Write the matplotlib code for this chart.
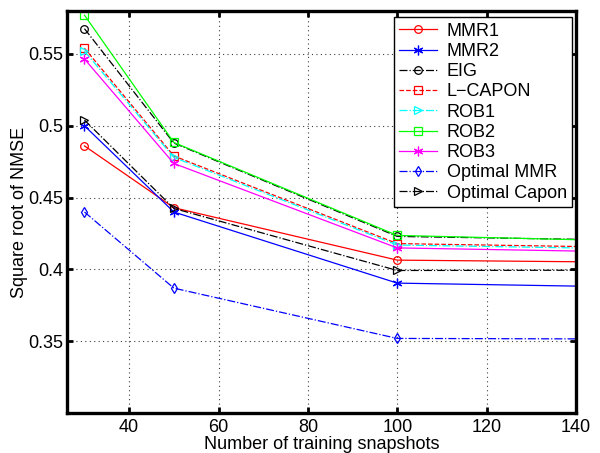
import numpy as np
import matplotlib.pyplot as plt

plt.rcParams['font.family'] = ['Liberation Sans', 'DejaVu Sans']

# training snapshots (last point lies past the right edge of the axes)
snapshots = [30, 50, 100, 150]

mmr1 = [0.486, 0.443, 0.4065, 0.4051]
mmr2 = [0.500, 0.440, 0.3905, 0.3879]
eig = [0.5676, 0.488, 0.423, 0.4205]
lcapon = [0.554, 0.479, 0.418, 0.4155]
rob1 = [0.552, 0.478, 0.417, 0.4145]
rob2 = [0.577, 0.4884, 0.4237, 0.4200]
rob3 = [0.5465, 0.4738, 0.415, 0.4123]
opt_mmr = [0.440, 0.387, 0.352, 0.3516]
opt_capon = [0.504, 0.4425, 0.3993, 0.3995]

names = ['MMR1', 'MMR2', 'EIG', 'L\u2212CAPON', 'ROB1', 'ROB2', 'ROB3',
         'Optimal MMR', 'Optimal Capon']
series = [mmr1, mmr2, eig, lcapon, rob1, rob2, rob3, opt_mmr, opt_capon]
asterisk = (6, 2, 0)
styles = [('#ff0000', '-', 'o'), ('#0000ff', '-', asterisk), ('k', '-.', 'o'),
          ('#ff0000', '--', 's'), ('#00ffff', '-.', '>'),
          ('#00ff00', '-', 's'), ('#ff00ff', '-', asterisk),
          ('#0000ff', '-.', 'd'), ('k', '-.', '>')]

fig = plt.figure(figsize=(6, 4.53), dpi=100)
ax = fig.add_axes([0.111, 0.088, 0.849, 0.888])

for name, ys, (c, ls, mk) in zip(names, series, styles):
    ms = 7 if mk is asterisk else 5.5
    ax.plot(snapshots, ys, color=c, linestyle=ls, marker=mk, markersize=ms,
            markerfacecolor='none', markeredgecolor=c, markeredgewidth=0.9,
            linewidth=0.9, label=name)

ax.set_xlim(26, 140)
ax.set_ylim(0.3, 0.58)
ax.set_xticks([40, 60, 80, 100, 120, 140])
ax.set_yticks([0.35, 0.4, 0.45, 0.5, 0.55])
ax.set_yticklabels(['0.35', '0.4', '0.45', '0.5', '0.55'])

ax.grid(True, color='0.25', linestyle=(0, (1, 3)), linewidth=0.8)
for s in ax.spines.values():
    s.set_linewidth(2.4)
ax.tick_params(direction='in', length=4, width=2, top=True, right=True,
               labelsize=13)
ax.tick_params(axis='x', pad=4.5)
ax.tick_params(axis='y', pad=2.5)

ax.set_xlabel('Number of training snapshots', fontsize=13)
ax.set_ylabel('Square root of NMSE', fontsize=13)
ax.xaxis.set_label_coords(0.5, -0.058)
ax.yaxis.set_label_coords(-0.075, 0.5)

leg = ax.legend(loc='upper right', bbox_to_anchor=(0.993, 0.984),
                borderaxespad=0, fancybox=False, framealpha=1, fontsize=13,
                handlelength=2.1, handletextpad=0.55, labelspacing=0.18,
                borderpad=0.3)
leg.get_frame().set_edgecolor('k')
leg.get_frame().set_linewidth(1.0)

plt.savefig('out.png', dpi=100)
